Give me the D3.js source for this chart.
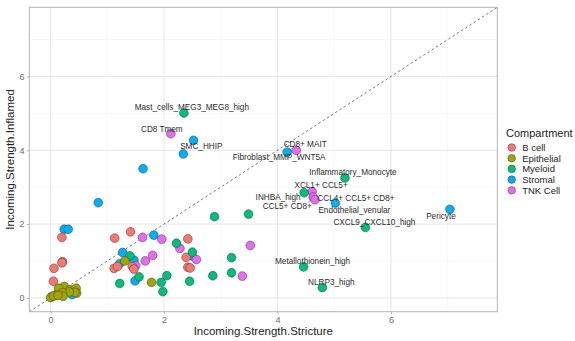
<!DOCTYPE html>
<html>
<head>
<meta charset="utf-8">
<script src="https://cdn.jsdelivr.net/npm/d3@7"></script>
<style>
  body { margin: 0; background: #fff; }
  text { font-family: "Liberation Sans", Arial, sans-serif; }
</style>
</head>
<body>
<script>
const width = 575;
const height = 341;
const marginTop = 7.3;
const marginRight = 77.7;
const marginBottom = 29.3;
const marginLeft = 29.3;

// data
const compartments = ["B cell", "Epithelial", "Myeloid", "Stromal", "TNK Cell"];
const colors = ["#F8766D", "#A3A500", "#00BF7D", "#00B0F6", "#E76BF3"];
const tickValues = [0, 2, 4, 6];
const minorValues = [1, 3, 5, 7];

const bcellStricture = [1.13, 1.41, 2.42, 2.39, 2.42, 2.46, 1.12, 1.18, 1.44, 1.47, 0.20, 0.21, 0.20, 0.06, 0.05];
const bcellInflamed  = [1.62, 1.79, 1.60, 1.10, 0.83, 0.81, 0.80, 0.85, 0.85, 0.78, 1.64, 0.98, 0.95, 0.80, 0.45];

const epiStricture = [1.31, 1.78, 0.24, 0.14, 0.34, 0.45, 0.46, 0.43, 0.33, 0.21, 0.22, 0.08, 0.02, 0.00, 0.05, 0.13];
const epiInflamed  = [1.00, 0.42, 0.31, 0.26, 0.22, 0.26, 0.13, 0.15, 0.16, 0.14, 0.04, 0.07, 0.03, 0.01, 0.05, 0.07];

const myeloidStricture = [3.49, 2.89, 3.19, 3.19, 2.22, 2.50, 2.45, 2.86, 1.40, 1.22, 1.56, 1.95, 2.05, 1.98];
const myeloidInflamed  = [2.27, 2.20, 1.09, 0.68, 1.48, 1.24, 0.45, 0.60, 1.14, 0.39, 0.57, 0.42, 0.60, 0.17];

const stromalStricture = [2.52, 1.63, 0.84, 0.24, 0.31, 1.82, 2.49, 1.27, 1.47, 1.22, 1.49, 0.20, 0.38];
const stromalInflamed  = [4.27, 3.50, 2.58, 1.86, 1.86, 1.70, 1.14, 1.23, 1.02, 0.93, 0.46, 0.14, 0.09];

const tnkStricture = [3.52, 3.38, 1.62, 1.96, 2.28, 2.57, 1.80, 1.67, 1.50];
const tnkInflamed  = [1.42, 0.59, 1.64, 1.59, 1.34, 1.04, 1.15, 1.00, 0.87];

// labelled cell types
const labelNames = ["Mast_cells_MEG3_MEG8_high", "CD8 Tmem", "SMC_HHIP", "CD8+ MAIT", "Fibroblast_MMP_WNT5A",
  "Inflammatory_Monocyte", "XCL1+ CCL5+", "INHBA_high", "CCL5+ CD8+", "CCL4+ CCL5+ CD8+",
  "Endothelial_venular", "CXCL9_CXCL10_high", "Pericyte", "Metallothionein_high", "NLRP3_high"];
const labelGroup = ["Myeloid", "TNK Cell", "Stromal", "TNK Cell", "Stromal",
  "Myeloid", "TNK Cell", "Myeloid", "TNK Cell", "TNK Cell",
  "Stromal", "Myeloid", "Stromal", "Myeloid", "Myeloid"];
const labelStricture = [2.35, 2.12, 2.34, 4.33, 4.17, 5.19, 4.61, 4.47, 4.63, 4.66, 5.02, 5.55, 7.04, 4.46, 4.79];
const labelInflamed  = [5.01, 4.45, 3.90, 4.00, 3.95, 3.25, 2.88, 2.85, 2.73, 2.66, 2.57, 1.91, 2.40, 0.84, 0.28];

// repel-style text offsets (px, text centre relative to point)
const nudge = {
  "Mast_cells_MEG3_MEG8_high": [8, -6],
  "CD8 Tmem": [-9, -5],
  "SMC_HHIP": [18, -8],
  "CD8+ MAIT": [9, -6],
  "Fibroblast_MMP_WNT5A": [-8, 5],
  "Inflammatory_Monocyte": [8, -5.5],
  "XCL1+ CCL5+": [9, -6.5],
  "INHBA_high": [-26, 4],
  "CCL5+ CD8+": [-26, 9],
  "CCL4+ CCL5+ CD8+": [41, -1.5],
  "Endothelial_venular": [19, 7.5],
  "CXCL9_CXCL10_high": [9, -5.5],
  "Pericyte": [-9, 7],
  "Metallothionein_high": [9, -6],
  "NLRP3_high": [9, -5]
};

const points = [];
const groups = [
  ["Stromal", stromalStricture, stromalInflamed],
  ["TNK Cell", tnkStricture, tnkInflamed],
  ["B cell", bcellStricture, bcellInflamed],
  ["Myeloid", myeloidStricture, myeloidInflamed],
  ["Epithelial", epiStricture, epiInflamed]
];
groups.forEach(g => g[1].forEach((v, i) => points.push({group: g[0], x: v, y: g[2][i]})));
labelNames.forEach((n, i) => points.push({group: labelGroup[i], x: labelStricture[i], y: labelInflamed[i], name: n}));

const color = d3.scaleOrdinal().domain(compartments).range(colors);

const svg = d3.select("body").append("svg")
  .attr("width", width)
  .attr("height", height);

const x = d3.scaleLinear()
  .domain([-0.375, 7.875])
  .range([marginLeft, width - marginRight]);

const y = d3.scaleLinear()
  .domain([-0.375, 7.875])
  .range([height - marginBottom, marginTop]);

const pw = width - marginRight - marginLeft;
const ph = height - marginBottom - marginTop;

// grid
const grid = svg.append("g");
grid.selectAll(".minx").data(minorValues).enter().append("line")
  .attr("x1", d => x(d)).attr("x2", d => x(d))
  .attr("y1", marginTop).attr("y2", marginTop + ph)
  .attr("stroke", "#f0f0f0").attr("stroke-width", 0.5);
grid.selectAll(".miny").data(minorValues).enter().append("line")
  .attr("y1", d => y(d)).attr("y2", d => y(d))
  .attr("x1", marginLeft).attr("x2", marginLeft + pw)
  .attr("stroke", "#f0f0f0").attr("stroke-width", 0.5);
grid.selectAll(".majx").data(tickValues).enter().append("line")
  .attr("x1", d => x(d)).attr("x2", d => x(d))
  .attr("y1", marginTop).attr("y2", marginTop + ph)
  .attr("stroke", "#e3e3e3").attr("stroke-width", 0.9);
grid.selectAll(".majy").data(tickValues).enter().append("line")
  .attr("y1", d => y(d)).attr("y2", d => y(d))
  .attr("x1", marginLeft).attr("x2", marginLeft + pw)
  .attr("stroke", "#e3e3e3").attr("stroke-width", 0.9);

// diagonal y = x
svg.append("line")
  .attr("x1", x(-0.375)).attr("y1", y(-0.375))
  .attr("x2", x(7.875)).attr("y2", y(7.875))
  .attr("stroke", "#555").attr("stroke-width", 0.8)
  .attr("stroke-dasharray", "2.5,2.5");

// axes
const xAxis = svg.append("g")
  .attr("transform", `translate(0,${height - marginBottom})`)
  .call(d3.axisBottom(x).tickValues(tickValues).tickSize(2.7).tickPadding(2).tickFormat(d3.format("d")));
const yAxis = svg.append("g")
  .attr("transform", `translate(${marginLeft},0)`)
  .call(d3.axisLeft(y).tickValues(tickValues).tickSize(2.7).tickPadding(2).tickFormat(d3.format("d")));
[xAxis, yAxis].forEach(a => {
  a.select(".domain").remove();
  a.selectAll(".tick line").attr("stroke", "#b3b3b3");
  a.selectAll(".tick text").attr("fill", "#6e6e6e").style("font-size", "9px")
    .style("font-family", "'Liberation Sans', Arial, sans-serif");
});

// panel border
svg.append("rect")
  .attr("x", marginLeft).attr("y", marginTop)
  .attr("width", pw).attr("height", ph)
  .attr("fill", "none").attr("stroke", "#b3b3b3").attr("stroke-width", 1);

// segment for crowded label
const seg = labelNames.indexOf("CCL5+ CD8+");
svg.append("line")
  .attr("x1", x(labelStricture[seg]) - 2.5).attr("y1", y(labelInflamed[seg]) + 3)
  .attr("x2", x(labelStricture[seg]) - 5).attr("y2", y(labelInflamed[seg]) + 5)
  .attr("stroke", "#333").attr("stroke-width", 0.6);

// points
svg.append("g").selectAll("circle")
  .data(points)
  .enter().append("circle")
    .attr("cx", d => x(d.x))
    .attr("cy", d => y(d.y))
    .attr("r", 4.4)
    .attr("fill", d => color(d.group))
    .attr("stroke", "#3a3a3a")
    .attr("stroke-width", 0.5);

// point labels
svg.append("g").selectAll("text")
  .data(points.filter(d => d.name))
  .enter().append("text")
    .attr("x", d => x(d.x) + nudge[d.name][0])
    .attr("y", d => y(d.y) + nudge[d.name][1])
    .attr("dy", "0.35em")
    .attr("text-anchor", "middle")
    .style("font-size", "8.2px")
    .attr("fill", "#2b2b2b")
    .text(d => d.name);

// axis titles
svg.append("text")
  .text("Incoming.Strength.Stricture")
  .attr("x", 263.3)
  .attr("y", 334.5)
  .attr("text-anchor", "middle")
  .style("font-size", "11.5px")
  .attr("fill", "#222");
svg.append("text")
  .text("Incoming.Strength.Inflamed")
  .attr("transform", `translate(14,${marginTop + ph / 2}) rotate(-90)`)
  .attr("text-anchor", "middle")
  .style("font-size", "11.5px")
  .attr("fill", "#222");

// legend
const legend = svg.append("g");
legend.append("text")
  .text("Compartment")
  .attr("x", 506)
  .attr("y", 136.5)
  .style("font-size", "11px")
  .attr("fill", "#222");
const item = legend.selectAll(".item")
  .data(compartments)
  .enter().append("g")
    .attr("transform", (d, i) => `translate(511.7,${147.5 + i * 10.7})`);
item.append("circle")
  .attr("r", 3.8)
  .attr("fill", d => color(d))
  .attr("stroke", "#3a3a3a")
  .attr("stroke-width", 0.5);
item.append("text")
  .text(d => d)
  .attr("x", 10.5)
  .attr("dy", "0.35em")
  .style("font-size", "9.5px")
  .attr("fill", "#222");
</script>
</body>
</html>
